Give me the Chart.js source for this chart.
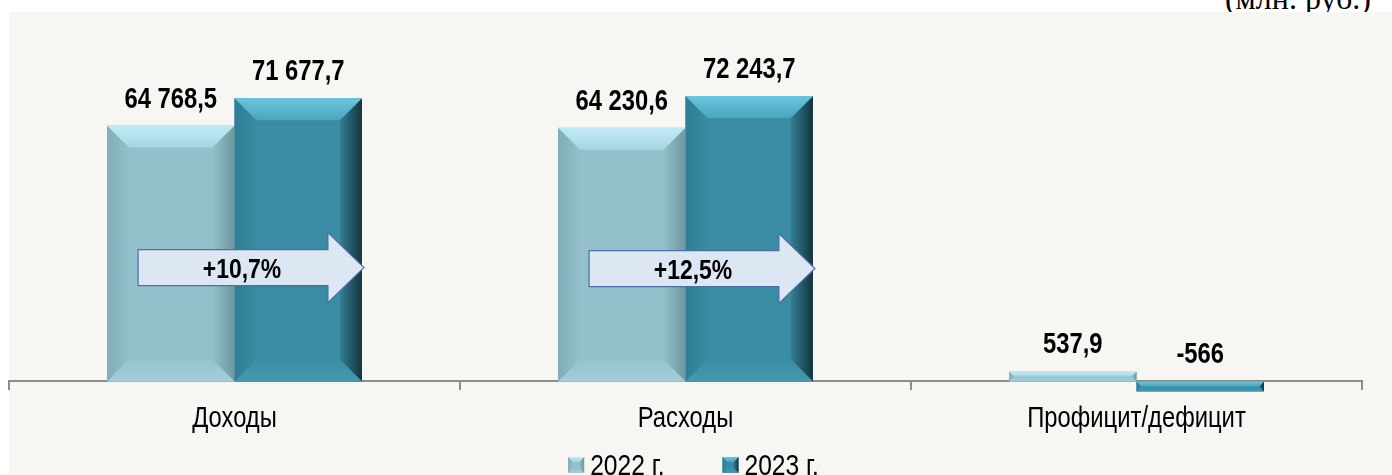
<!DOCTYPE html>
<html lang="ru">
<head>
    <meta charset="UTF-8">
    <title>Доходы и расходы</title>
    <script src="https://cdn.jsdelivr.net/npm/chart.js"></script>
    <style>
        html, body {
            margin: 0;
            padding: 0;
            width: 1392px;
            height: 475px;
            overflow: hidden;
            background: #ffffff;
        }
        .units {
            position: absolute;
            right: 21px;
            top: -18px;
            font-family: "Liberation Serif", "Times New Roman", serif;
            font-size: 32px;
            line-height: 32px;
            color: #000;
        }
        .panel {
            position: absolute;
            left: 9px;
            top: 12px;
            right: 0;
            bottom: 0;
            background: #f7f6f2;
        }
        #chart {
            position: absolute;
            left: 0;
            top: 0;
        }
    </style>
</head>
<body>
    <div class="units">(млн. руб.)</div>
    <div class="panel"></div>
    <canvas id="chart" width="1392" height="475"></canvas>

    <script>
        const categories = ['Доходы', 'Расходы', 'Профицит/дефицит'];
        const seriesNames = ['2022 г.', '2023 г.'];
        const values2022 = [64768.5, 64230.6, 537.9];
        const values2023 = [71677.7, 72243.7, -566];
        const growthLabels = ['+10,7%', '+12,5%', ''];

        // no Arial Narrow here: Liberation Sans squeezed horizontally instead
        const SANS = '"Liberation Sans", Arial, sans-serif';
        const NARROW_X = 0.82;

        // bevel palettes: face, top, left, right, bottom
        const palettes = [
            {
                face: '#93c0ca',
                top: ['#c0ebf6', '#a6d6e2'],
                left: ['#80adb7', '#93c0ca'],
                right: ['#93c0ca', '#6f979f'],
                bottom: ['#96c3cc', '#a3ced7']
            },
            {
                face: '#398ca3',
                top: ['#6ac6df', '#4aa5be'],
                left: ['#2f7d92', '#398ca3'],
                right: ['#327f94', '#15343d'],
                bottom: ['#3a8da4', '#4698af']
            }
        ];

        function formatValue(v) {
            const neg = v < 0;
            let [intPart, dec] = Math.abs(v).toFixed(1).split('.');
            intPart = intPart.replace(/\B(?=(\d{3})+(?!\d))/g, ' ');
            const s = intPart + (dec === '0' ? '' : ',' + dec);
            return (neg ? '-' : '') + s;
        }

        function narrowText(ctx, text, x, y, font, align) {
            ctx.save();
            ctx.font = font;
            ctx.fillStyle = '#000';
            ctx.textAlign = align || 'center';
            ctx.textBaseline = 'alphabetic';
            ctx.translate(x, y);
            ctx.scale(NARROW_X, 1);
            ctx.fillText(text, 0, 0);
            ctx.restore();
        }

        function narrowWidth(ctx, text, font) {
            ctx.save();
            ctx.font = font;
            const w = ctx.measureText(text).width * NARROW_X;
            ctx.restore();
            return w;
        }

        function drawBevel(ctx, l, t, r, b, pal, size) {
            const s = Math.min(size, (b - t) / 2, (r - l) / 2);
            const grad = (x0, y0, x1, y1, c) => {
                const g = ctx.createLinearGradient(x0, y0, x1, y1);
                g.addColorStop(0, c[0]);
                g.addColorStop(1, c[1]);
                return g;
            };
            const poly = (pts, fill) => {
                ctx.beginPath();
                ctx.moveTo(pts[0][0], pts[0][1]);
                for (let i = 1; i < pts.length; i++) ctx.lineTo(pts[i][0], pts[i][1]);
                ctx.closePath();
                ctx.fillStyle = fill;
                ctx.fill();
            };
            poly([[l, t], [l + s, t + s], [l + s, b - s], [l, b]], grad(l, 0, l + s, 0, pal.left));
            poly([[r, t], [r, b], [r - s, b - s], [r - s, t + s]], grad(r - s, 0, r, 0, pal.right));
            poly([[l, b], [l + s, b - s], [r - s, b - s], [r, b]], grad(0, b - s, 0, b, pal.bottom));
            poly([[l, t], [r, t], [r - s, t + s], [l + s, t + s]], grad(0, t, 0, t + s, pal.top));
        }

        const bevelPlugin = {
            id: 'bevel',
            afterDatasetsDraw(chart) {
                const ctx = chart.ctx;
                ctx.save();
                chart.data.datasets.forEach((ds, di) => {
                    chart.getDatasetMeta(di).data.forEach(el => {
                        const l = el.x - el.width / 2;
                        const r = el.x + el.width / 2;
                        const t = Math.min(el.y, el.base);
                        const b = Math.max(el.y, el.base);
                        drawBevel(ctx, l, t, r, b, palettes[di], 22);
                    });
                });
                ctx.restore();
            }
        };

        const arrowPlugin = {
            id: 'growthArrows',
            afterDatasetsDraw(chart) {
                const ctx = chart.ctx;
                const m0 = chart.getDatasetMeta(0).data;
                const m1 = chart.getDatasetMeta(1).data;
                ctx.save();
                growthLabels.forEach((txt, i) => {
                    if (!txt) return;
                    const a = m0[i], b = m1[i];
                    const x0 = a.x - a.width / 2 + 31;
                    const tip = b.x + b.width / 2 + 2;
                    const cy = a.base - 0.445 * (a.base - a.y);
                    const headLen = 36, bodyH = 18, headH = 35;
                    const xh = tip - headLen;
                    ctx.beginPath();
                    ctx.moveTo(x0, cy - bodyH);
                    ctx.lineTo(xh, cy - bodyH);
                    ctx.lineTo(xh, cy - headH);
                    ctx.lineTo(tip, cy);
                    ctx.lineTo(xh, cy + headH);
                    ctx.lineTo(xh, cy + bodyH);
                    ctx.lineTo(x0, cy + bodyH);
                    ctx.closePath();
                    ctx.fillStyle = '#dde7f3';
                    ctx.fill();
                    ctx.lineWidth = 1.2;
                    ctx.strokeStyle = '#4a6ea6';
                    ctx.stroke();
                    narrowText(ctx, txt, (x0 + xh) / 2 + 9, cy + 10, 'bold 28px ' + SANS);
                });
                ctx.restore();
            }
        };

        const valueLabelPlugin = {
            id: 'valueLabels',
            afterDatasetsDraw(chart) {
                const ctx = chart.ctx;
                chart.data.datasets.forEach((ds, di) => {
                    chart.getDatasetMeta(di).data.forEach((el, i) => {
                        const top = Math.min(el.y, el.base);
                        narrowText(ctx, formatValue(ds.data[i]), el.x, top - 18, 'bold 29px ' + SANS);
                    });
                });
            }
        };

        // category names under the zero line and the series legend, in the narrow face
        const textPlugin = {
            id: 'axisText',
            afterDraw(chart) {
                const ctx = chart.ctx;
                const xs = chart.scales.x;
                const zero = chart.scales.y.getPixelForValue(0);
                chart.data.labels.forEach((lab, i) => {
                    narrowText(ctx, lab, xs.getPixelForValue(i), zero + 46, '29px ' + SANS);
                });

                const font = '30px ' + SANS;
                const box = 16, gap = 6, spacing = 58;
                const widths = seriesNames.map(n => narrowWidth(ctx, n, font));
                const total = widths.reduce((s, w) => s + box + gap + w, 0) + spacing * (widths.length - 1);
                let x = (chart.chartArea.left + chart.chartArea.right) / 2 + 8 - total / 2;
                const baseY = zero + 93.5;
                seriesNames.forEach((n, i) => {
                    const pal = palettes[i];
                    const by = baseY - 2 - box;
                    ctx.save();
                    ctx.fillStyle = pal.face;
                    ctx.fillRect(x, by, box, box);
                    drawBevel(ctx, x, by, x + box, by + box, pal, 5);
                    ctx.restore();
                    narrowText(ctx, n, x + box + gap, baseY, font, 'left');
                    x += box + gap + widths[i] + spacing;
                });
            }
        };

        new Chart(document.getElementById('chart'), {
            type: 'bar',
            data: {
                labels: categories,
                datasets: [
                    {
                        label: seriesNames[0],
                        data: values2022,
                        backgroundColor: palettes[0].face
                    },
                    {
                        label: seriesNames[1],
                        data: values2023,
                        backgroundColor: palettes[1].face
                    }
                ]
            },
            options: {
                responsive: false,
                animation: false,
                layout: {
                    padding: { left: 9, right: 30, top: 12, bottom: 55 }
                },
                datasets: {
                    bar: {
                        categoryPercentage: 0.565,
                        barPercentage: 1,
                        minBarLength: 10,
                        borderWidth: 0,
                        clip: false
                    }
                },
                scales: {
                    y: {
                        display: false,
                        min: -9750,
                        max: 93500
                    },
                    x: {
                        position: { y: 0 },
                        grid: {
                            offset: true,
                            drawOnChartArea: false,
                            drawTicks: true,
                            tickLength: 8,
                            color: '#8c8c8c',
                            lineWidth: 2
                        },
                        border: { color: '#8c8c8c', width: 2 },
                        ticks: { display: false }
                    }
                },
                plugins: {
                    tooltip: { enabled: false },
                    legend: { display: false }
                }
            },
            plugins: [bevelPlugin, arrowPlugin, valueLabelPlugin, textPlugin]
        });
    </script>
</body>
</html>
